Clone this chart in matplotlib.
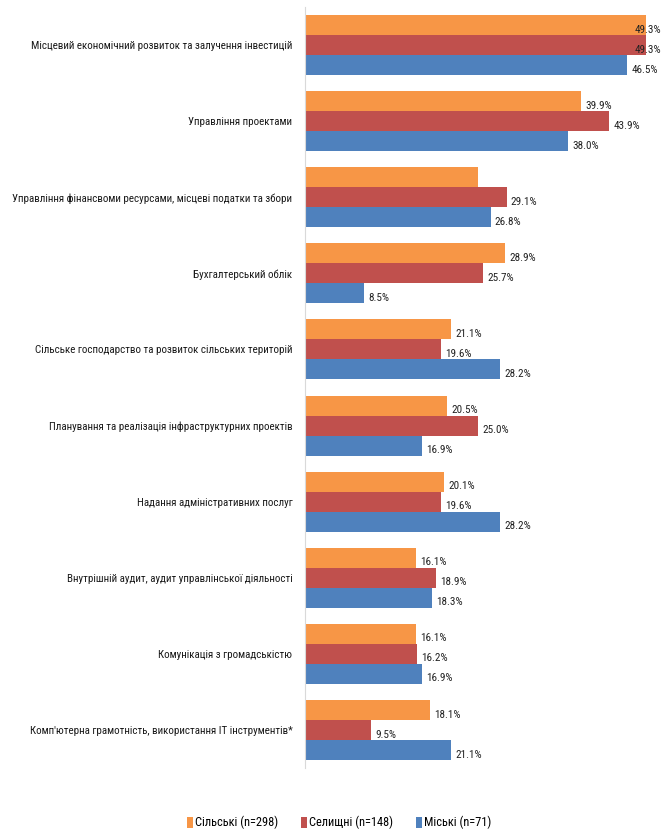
import numpy as np
import matplotlib
matplotlib.use("Agg")
import matplotlib.pyplot as plt
from matplotlib import font_manager as fm
from matplotlib.patches import Patch

# pick a narrow face if one is installed (the original uses a condensed font)
narrow = None
for pref in ["Liberation Sans Narrow", "Roboto Condensed", "DejaVu Sans Condensed", "Open Sans Condensed"]:
    for f in fm.fontManager.ttflist:
        if (f.name == pref or pref in f.fname.replace("-", " ")) and f.style == "normal" and f.weight in (400, "normal", "regular"):
            narrow = f.fname
            break
    if narrow:
        break
if narrow is None:
    for f in fm.fontManager.ttflist:
        if f.stretch in ("condensed", "semi-condensed") and f.style == "normal" and f.weight in (400, "normal"):
            narrow = f.fname
            break

if narrow:
    FP = dict(fontproperties=fm.FontProperties(fname=narrow))
    scale = 1.0
else:
    plt.rcParams["font.family"] = ["Liberation Sans", "DejaVu Sans"]
    FP = {}
    scale = 0.82

categories = [
    "Місцевий економічний розвиток та залучення інвестицій",
    "Управління проектами",
    "Управління фінансвоми ресурсами, місцеві податки та збори",
    "Бухгалтерський облік",
    "Сільське господарство та розвиток сільських територій",
    "Планування та реалізація інфраструктурних проектів",
    "Надання адміністративних послуг",
    "Внутрішній аудит, аудит управлінської діяльності",
    "Комунікація з громадськістю",
    "Комп'ютерна грамотність, використання ІТ інструментів*",
]
series_names = ["Сільські (n=298)", "Селищні (n=148)", "Міські (n=71)"]
rural = [49.3, 39.9, 25.0, 28.9, 21.1, 20.5, 20.1, 16.1, 16.1, 18.1]
settlement = [49.3, 43.9, 29.1, 25.7, 19.6, 25.0, 19.6, 18.9, 16.2, 9.5]
urban = [46.5, 38.0, 26.8, 8.5, 28.2, 16.9, 28.2, 18.3, 16.9, 21.1]
# the orange label of the 3rd category is not shown in the original
hidden = {(0, 2)}

colors = ["#F79646", "#C0504D", "#4F81BD"]

fig = plt.figure(figsize=(6.61, 8.36), dpi=100)
ax = fig.add_axes([0.4614, 0.0813, 0.5386, 0.9103])

n = len(categories)
y = np.arange(n)
h = 0.263
for s, (vals, c) in enumerate(zip([rural, settlement, urban], colors)):
    yy = y + (s - 1) * h
    ax.barh(yy, vals, height=h, color=c, edgecolor="none", zorder=2)
    for i, v in enumerate(vals):
        if (s, i) in hidden:
            continue
        t = ax.text(min(v + 0.6, 47.6), yy[i] + 0.06, f"{v:.1f}%", ha="left", va="center",
                    color="#222222", zorder=3, **FP)
        t.set_fontsize(8.0 * scale)

ax.set_ylim(n - 0.5, -0.5)
ax.set_xlim(0, 51.4)
ax.set_yticks(y)
ax.set_yticklabels(categories, color="#1a1a1a")
for lab in ax.get_yticklabels():
    if narrow:
        lab.set_fontproperties(fm.FontProperties(fname=narrow))
    lab.set_fontsize(7.9 * scale)
ax.tick_params(axis="y", length=0, pad=9)
ax.set_xticks([])
for sp in ["top", "right", "bottom"]:
    ax.spines[sp].set_visible(False)
ax.spines["left"].set_color("#d9d9d9")

handles = [Patch(facecolor=c, label=l) for c, l in zip(colors, series_names)]
leg_prop = fm.FontProperties(fname=narrow) if narrow else fm.FontProperties()
leg_prop.set_size(8.9 * scale)
fig.legend(handles=handles, loc="center", bbox_to_anchor=(0.513, 0.016), ncol=3,
           frameon=False, prop=leg_prop, handlelength=0.5, handleheight=1.0,
           handletextpad=0.2, columnspacing=1.8)

fig.savefig("out.png", dpi=100)
